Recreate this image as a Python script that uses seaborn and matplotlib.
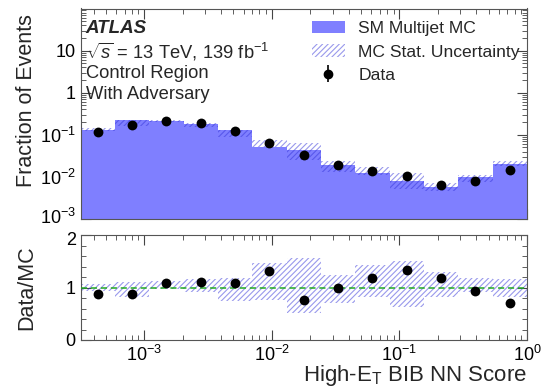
import numpy as np
import pandas as pd
import matplotlib
matplotlib.use("Agg")
import matplotlib.pyplot as plt
import matplotlib.transforms as mtransforms
from matplotlib.patches import Patch
from matplotlib.ticker import FixedLocator, LogLocator, NullFormatter, MultipleLocator, FixedFormatter
import seaborn as sns

# ---------------- data ----------------
bin_edges = np.logspace(-3.5, 0, 14)          # 13 log-uniform bins of the NN score
mc = [0.132, 0.221, 0.209, 0.182, 0.127, 0.051, 0.0427, 0.019, 0.0125, 0.0081, 0.0059, 0.0097, 0.020]
mc_hi = [0.143, 0.228, 0.222, 0.191, 0.132, 0.0734, 0.065, 0.024, 0.0174, 0.0121, 0.0073, 0.011, 0.024]
mc_lo = [0.125, 0.165, 0.197, 0.157, 0.088, 0.050, 0.0258, 0.0132, 0.011, 0.0051, 0.0047, 0.0077, 0.018]
data = [0.115, 0.172, 0.211, 0.187, 0.125, 0.063, 0.0326, 0.019, 0.0139, 0.0105, 0.0064, 0.0082, 0.0144]
ratio = [0.87, 0.87, 1.08, 1.11, 1.09, 1.32, 0.77, 1.00, 1.18, 1.33, 1.19, 0.93, 0.71]
ratio_lo = [0.93, 0.81, 0.98, 0.915, 0.74, 0.755, 0.52, 0.71, 0.81, 0.63, 0.82, 0.915, 0.81]
ratio_hi = [1.06, 1.10, 1.13, 1.16, 1.18, 1.47, 1.56, 1.24, 1.42, 1.50, 1.30, 1.19, 1.16]

top_ticks = [1e-3, 1e-2, 1e-1, 1, 10]
top_ticklabels = [r"$10^{-3}$", r"$10^{-2}$", r"$10^{-1}$", "1", "10"]
x_ticks = [1e-3, 1e-2, 1e-1, 1]
x_ticklabels = [r"$10^{-3}$", r"$10^{-2}$", r"$10^{-1}$", r"$10^{0}$"]

centers = np.sqrt(bin_edges[:-1] * bin_edges[1:])
df = pd.DataFrame({"score": centers, "mc": mc, "data": data, "ratio": ratio})

# ---------------- style ----------------
sns.set_theme(style="ticks")
plt.rcParams["font.family"] = ["Liberation Sans", "DejaVu Sans"]
plt.rcParams["mathtext.fontset"] = "custom"
plt.rcParams["mathtext.rm"] = "Liberation Sans"
plt.rcParams["mathtext.it"] = "Liberation Sans:italic"
plt.rcParams["mathtext.bf"] = "Liberation Sans:bold"
plt.rcParams["hatch.linewidth"] = 0.8

FILL = "#7f7fff"
HATCH = (0.2, 0.2, 0.85, 0.5)
HP = "//////"

fig = plt.figure(figsize=(5.41, 3.87), dpi=100)
W, H = 541, 387
def box(x0, y0, x1, y1):
    return [x0 / W, 1 - y1 / H, (x1 - x0) / W, (y1 - y0) / H]

ax = fig.add_axes(box(80.5, 8.5, 527, 219))
axr = fig.add_axes(box(80.5, 235, 527, 340))

# ---------------- top panel ----------------
sns.histplot(data=df, x="score", weights="mc", bins=list(bin_edges), element="step",
             fill=True, color=FILL, alpha=1.0, linewidth=0, ax=ax, legend=False)
ax.set_xscale("log")
ax.set_yscale("log")
ax.stairs(mc_hi, bin_edges, baseline=mc_lo, fill=True, facecolor="none",
          edgecolor=HATCH, hatch=HP, linewidth=0)
sns.scatterplot(data=df, x="score", y="data", color="black", s=50, edgecolor="black",
                linewidth=0, ax=ax, legend=False, zorder=5)
ax.set_xlim(10 ** -3.5, 1)
ax.set_ylim(1e-3, 1e2)

# ---------------- ratio panel ----------------
axr.set_xscale("log")
axr.stairs(ratio_hi, bin_edges, baseline=ratio_lo, fill=True, facecolor="none",
           edgecolor=HATCH, hatch=HP, linewidth=0)
axr.axhline(1.0, color="#22aa22", linestyle=(0, (4, 2.5)), linewidth=1.1, zorder=3)
sns.scatterplot(data=df, x="score", y="ratio", color="black", s=50, edgecolor="black",
                linewidth=0, ax=axr, legend=False, zorder=5)
axr.set_xlim(10 ** -3.5, 1)
axr.set_ylim(0, 2)

# ---------------- ticks ----------------
for a in (ax, axr):
    a.tick_params(which="both", direction="in", top=True, right=True, colors="#444444",
                  labelcolor="black", labelsize=13)
    a.tick_params(which="major", length=7, width=0.8)
    a.tick_params(which="minor", length=3.5, width=0.6)
    a.xaxis.set_major_locator(FixedLocator(x_ticks))
    a.xaxis.set_minor_locator(LogLocator(base=10, subs=np.arange(2, 10)))
    a.xaxis.set_minor_formatter(NullFormatter())
    for s in a.spines.values():
        s.set_color("#555555")
        s.set_linewidth(0.8)
    a.set_xlabel("")
    a.set_ylabel("")

ax.yaxis.set_major_locator(FixedLocator(top_ticks))
ax.yaxis.set_major_formatter(FixedFormatter(top_ticklabels))
ax.yaxis.set_minor_locator(LogLocator(base=10, subs=np.arange(2, 10)))
ax.yaxis.set_minor_formatter(NullFormatter())
ax.tick_params(axis="x", labelbottom=False)

axr.xaxis.set_major_formatter(FixedFormatter(x_ticklabels))
axr.yaxis.set_major_locator(FixedLocator([0, 1, 2]))
axr.yaxis.set_minor_locator(MultipleLocator(0.2))
axr.yaxis.set_major_formatter(FixedFormatter(["0", "1", "2"]))

# small nudges so the stacked "10^-3" and "2" labels do not collide
fig.canvas.draw()
up = mtransforms.ScaledTranslation(0, 2.5 / 72, fig.dpi_scale_trans)
down = mtransforms.ScaledTranslation(0, -2.5 / 72, fig.dpi_scale_trans)
ax.get_yticklabels()[0].set_transform(ax.get_yticklabels()[0].get_transform() + up)
axr.get_yticklabels()[-1].set_transform(axr.get_yticklabels()[-1].get_transform() + down)

ax.set_ylabel("Fraction of Events", fontsize=15.5, loc="top")
ax.yaxis.set_label_coords(-0.097, 0.975)
axr.set_ylabel("Data/MC", fontsize=15.5)
axr.yaxis.set_label_coords(-0.097, 0.5)
axr.set_xlabel(r"High-E$_{\mathrm{T}}$ BIB NN Score", fontsize=16, loc="right")
axr.xaxis.set_label_coords(1.0, -0.22)

# ---------------- text ----------------
tx = 0.012
ax.text(tx, 0.907, "ATLAS", transform=ax.transAxes, fontsize=13.5, fontweight="bold",
        fontstyle="italic", va="center", ha="left")
ax.text(tx, 0.793, r"$\sqrt{s}$ = 13 TeV, 139 fb$^{-1}$", transform=ax.transAxes,
        fontsize=13.2, va="center", ha="left")
ax.text(tx, 0.692, "Control Region", transform=ax.transAxes, fontsize=13.2,
        va="center", ha="left")
ax.text(tx, 0.590, "With Adversary", transform=ax.transAxes, fontsize=13.2,
        va="center", ha="left")

# ---------------- legend ----------------
eb = ax.errorbar([], [], yerr=[], fmt="o", color="black", markersize=6, elinewidth=1.2)
handles = [Patch(facecolor=FILL, edgecolor="none"),
           Patch(facecolor="none", edgecolor=HATCH, hatch=HP, linewidth=0),
           eb]
labels = ["SM Multijet MC", "MC Stat. Uncertainty", "Data"]
ax.legend(handles, labels, loc="upper left", bbox_to_anchor=(0.518, 0.94), frameon=False,
          fontsize=12.6, handlelength=1.9, handletextpad=0.75, labelspacing=0.45,
          borderpad=0, borderaxespad=0)

fig.savefig("out.png", dpi=100)
